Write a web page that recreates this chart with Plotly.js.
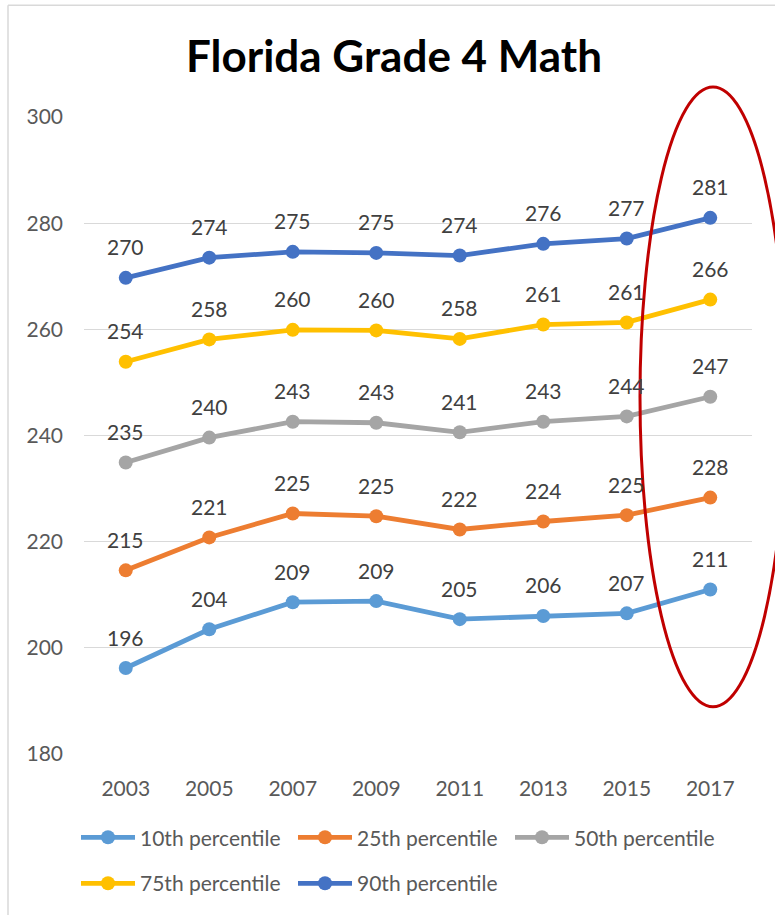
<!DOCTYPE html>
<html>
<head>
<meta charset="utf-8">
<script src="https://cdn.plot.ly/plotly-3.0.1.min.js"></script>
<style>html,body{margin:0;padding:0;background:#fff;}#chart{width:775px;height:915px;}</style>
</head>
<body>
<div id="chart"></div>
<script>
var years = ["2003","2005","2007","2009","2011","2013","2015","2017"];
var p10 = [196.2, 203.5, 208.6, 208.8, 205.4, 206.0, 206.5, 211.0];
var p25 = [214.6, 220.8, 225.3, 224.8, 222.3, 223.8, 225.0, 228.3];
var p50 = [234.9, 239.6, 242.6, 242.4, 240.6, 242.6, 243.6, 247.3];
var p75 = [253.9, 258.1, 259.9, 259.8, 258.2, 260.9, 261.3, 265.6];
var p90 = [269.7, 273.5, 274.6, 274.4, 273.9, 276.1, 277.1, 281.0];
var l10 = ["196","204","209","209","205","206","207","211"];
var l25 = ["215","221","225","225","222","224","225","228"];
var l50 = ["235","240","243","243","241","243","244","247"];
var l75 = ["254","258","260","260","258","261","261","266"];
var l90 = ["270","274","275","275","274","276","277","281"];
var names = ["10th percentile","25th percentile","50th percentile","75th percentile","90th percentile"];
var colors = ["#5B9BD5","#ED7D31","#A5A5A5","#FFC000","#4472C4"];
var series = [p10,p25,p50,p75,p90];
var labels = [l10,l25,l50,l75,l90];
var legendOf = ["legend","legend","legend","legend2","legend2"];

var FONT = "Lato, 'Open Sans', sans-serif";
var traces = series.map(function(s,i){
  return {x: years, y: s, name: names[i], type: 'scatter', mode: 'lines+markers', legend: legendOf[i],
    line: {color: colors[i], width: 4.8}, marker: {color: colors[i], size: 14}, hoverinfo: 'none'};
});
var annotations = [];
series.forEach(function(s,i){
  s.forEach(function(v,j){
    annotations.push({xref: 'x', yref: 'y', x: j, y: v, text: labels[i][j], showarrow: false, yshift: 31,
      font: {family: FONT, size: 21, color: '#404040'}});
  });
});
var L = 84, T = 117, W = 668, H = 638.3;
function px(x){return (x-L)/W;}
function py(y){return (T+H-y)/H;}
var shapes = [
  {type:'line', xref:'paper', yref:'paper', x0:px(8), x1:px(8), y0:py(5), y1:py(920), line:{color:'#D9D9D9', width:1.5}},
  {type:'line', xref:'paper', yref:'paper', x0:px(8), x1:px(790), y0:py(5), y1:py(5), line:{color:'#D9D9D9', width:1.5}},
  {type:'circle', xref:'paper', yref:'paper', x0:px(640), x1:px(786), y0:py(708), y1:py(87), line:{color:'#C00000', width:3}}
];
function legendBox(yc){
  return {orientation: 'h', x: px(76), xanchor: 'left', y: py(yc), yanchor: 'middle',
    entrywidth: 148, entrywidthmode: 'pixels', itemwidth: 54,
    font: {family: FONT, size: 21, color: '#595959'}, bgcolor: 'rgba(0,0,0,0)'};
}
var layout = {
  width: 775, height: 915,
  margin: {l: L, r: 775-L-W, t: T, b: 915-T-H},
  paper_bgcolor: '#fff', plot_bgcolor: '#fff',
  title: {text: '<b>Florida Grade 4 Math</b>', x: 394/775, xref: 'container', xanchor: 'center',
    y: 1-57/915, yref: 'container', yanchor: 'middle', font: {family: FONT, size: 44, color: '#000'}},
  xaxis: {type: 'category', range: [-0.5, 7.5], showgrid: false, zeroline: false, showline: false,
    tickfont: {family: FONT, size: 21, color: '#595959'}, ticklabelstandoff: 20, fixedrange: true},
  yaxis: {range: [180, 300], dtick: 20, tick0: 180, showgrid: true, gridcolor: '#D9D9D9', gridwidth: 1.3,
    zeroline: false, showline: false, tickfont: {family: FONT, size: 21, color: '#595959'},
    ticklabelstandoff: 20, fixedrange: true},
  showlegend: true,
  legend: legendBox(838),
  legend2: legendBox(884),
  annotations: annotations,
  shapes: shapes
};
Plotly.newPlot('chart', traces, layout, {displayModeBar: false, staticPlot: true});
</script>
</body>
</html>
